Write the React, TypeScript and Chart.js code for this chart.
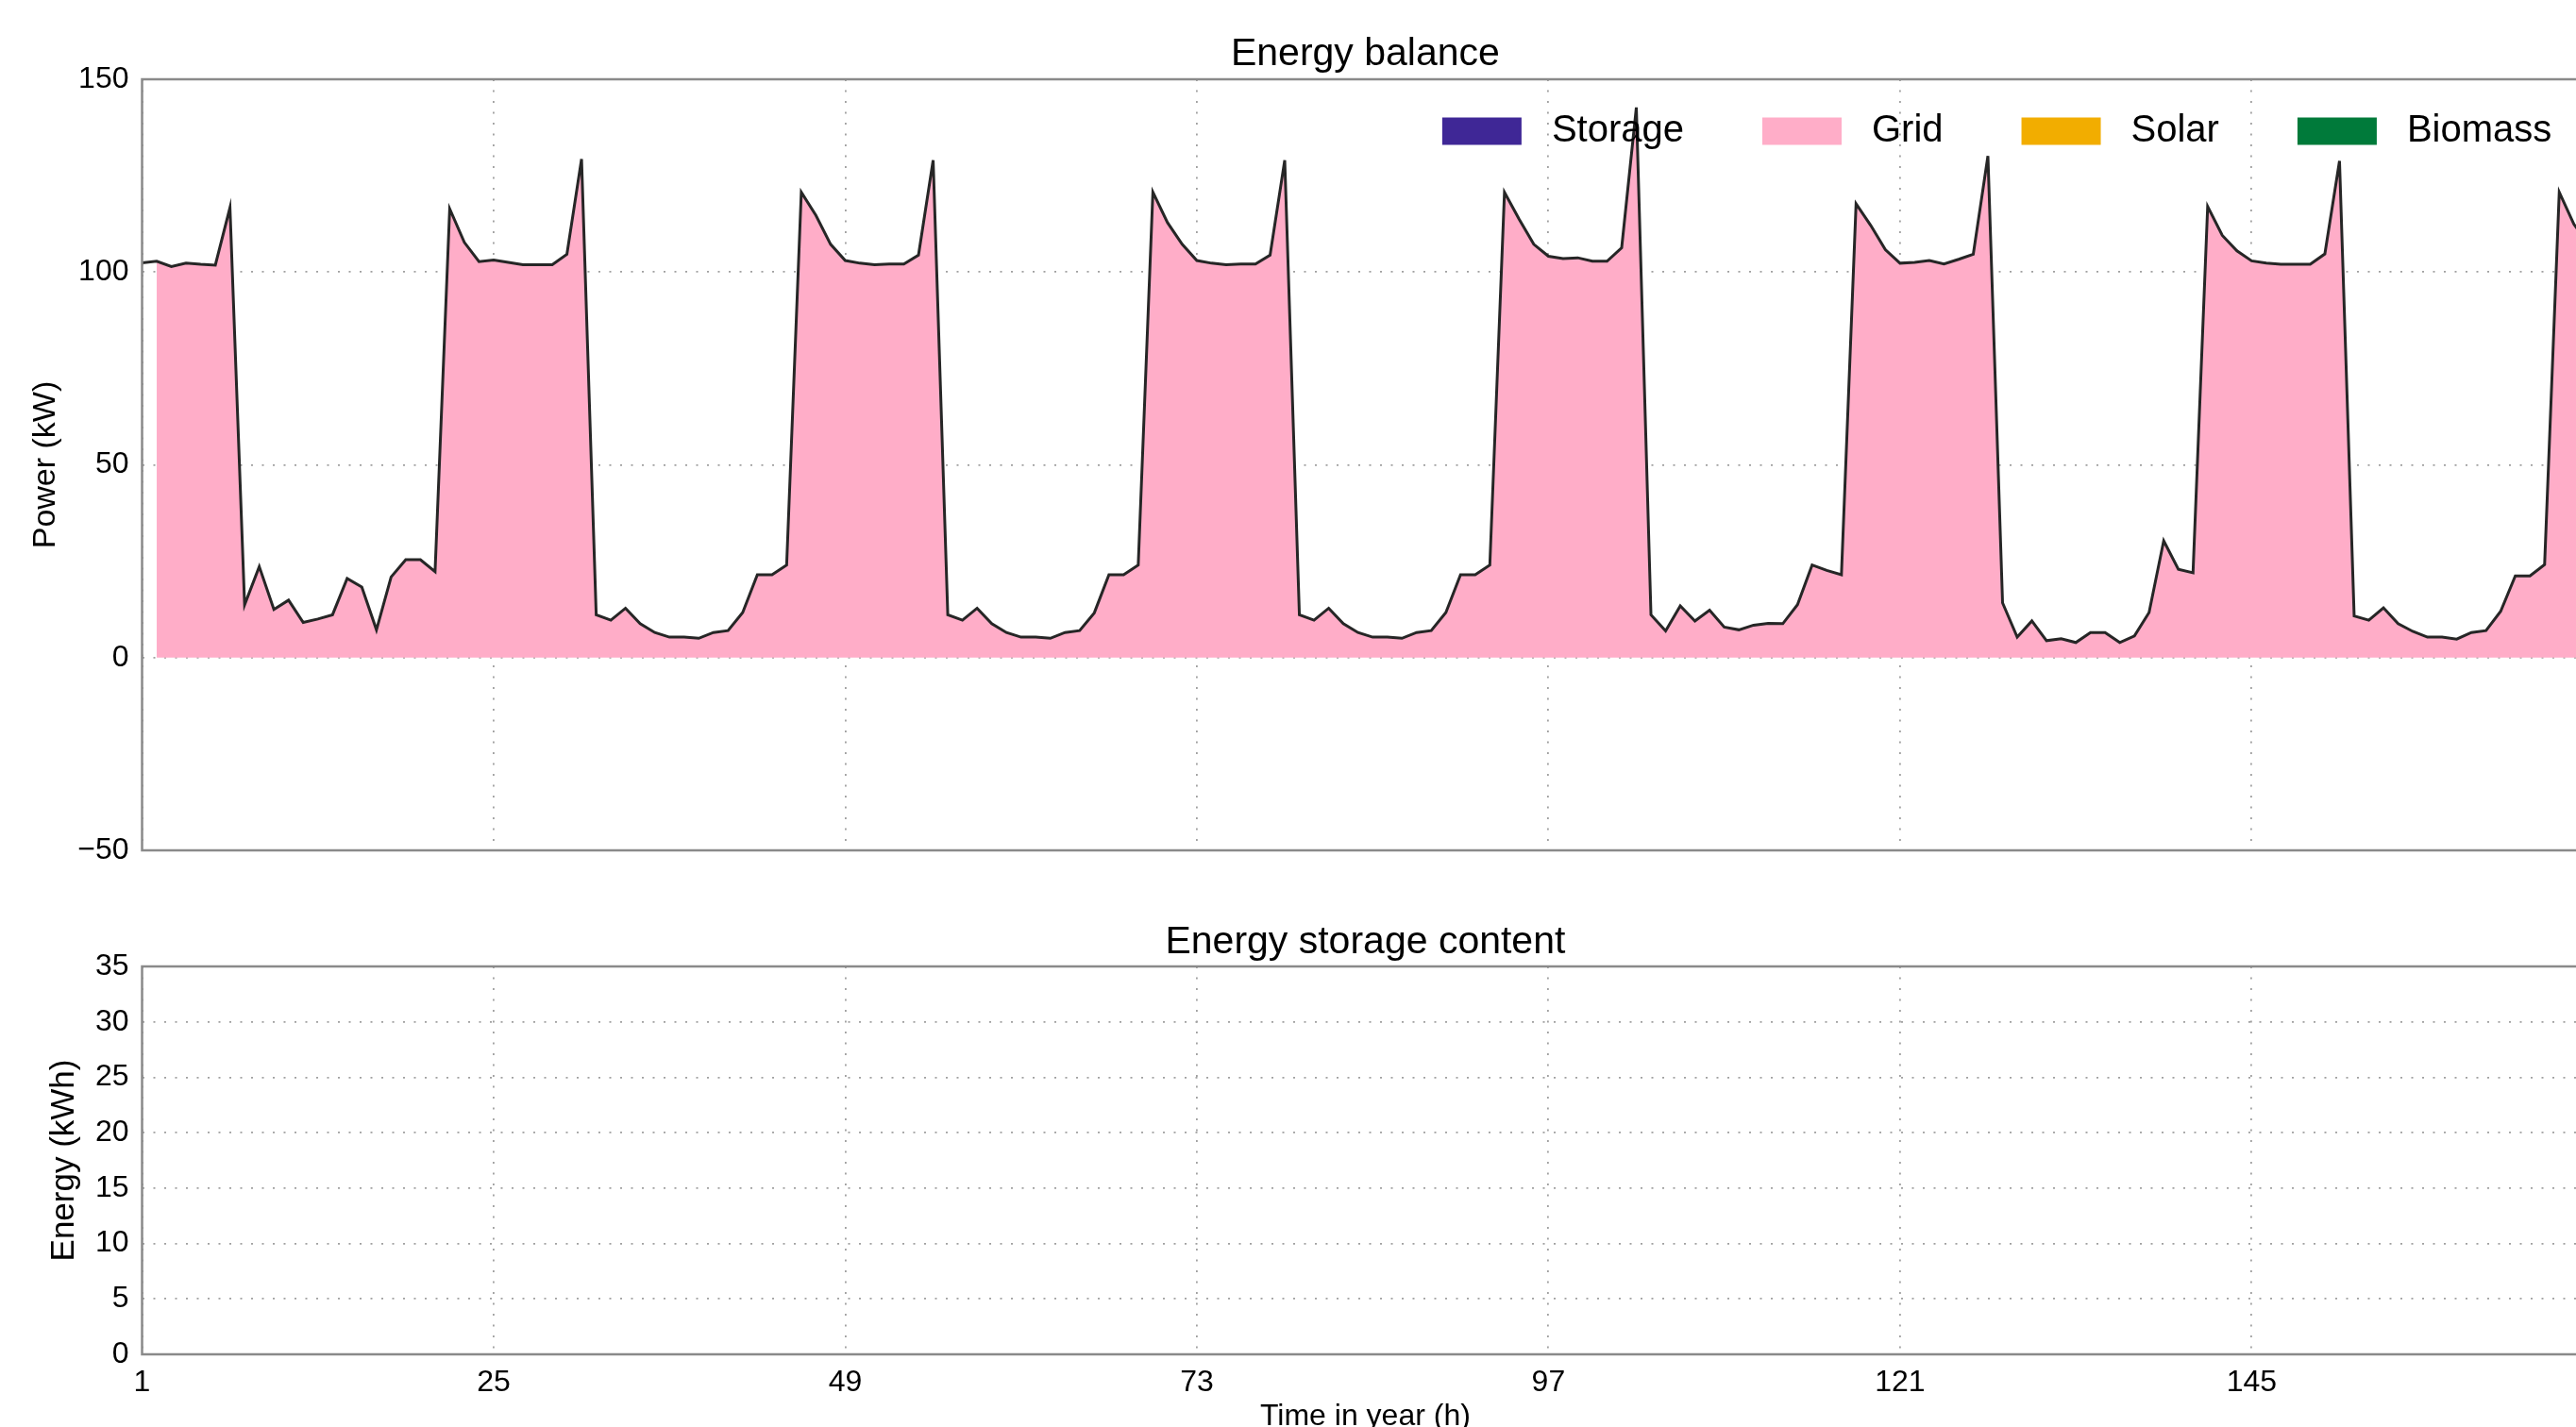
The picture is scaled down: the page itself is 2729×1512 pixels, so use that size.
import React, { useEffect, useRef } from 'react';
import { Chart, registerables } from 'chart.js';

Chart.register(...registerables);

// ---------- data ----------
const hours: number[] = [
  1, 2, 3, 4, 5, 6, 7, 8, 9, 10, 11, 12, 13, 14, 15, 16, 17, 18, 19, 20, 21, 22, 23, 24,
  25, 26, 27, 28, 29, 30, 31, 32, 33, 34, 35, 36, 37, 38, 39, 40, 41, 42, 43, 44, 45, 46, 47, 48,
  49, 50, 51, 52, 53, 54, 55, 56, 57, 58, 59, 60, 61, 62, 63, 64, 65, 66, 67, 68, 69, 70, 71, 72,
  73, 74, 75, 76, 77, 78, 79, 80, 81, 82, 83, 84, 85, 86, 87, 88, 89, 90, 91, 92, 93, 94, 95, 96,
  97, 98, 99, 100, 101, 102, 103, 104, 105, 106, 107, 108, 109, 110, 111, 112, 113, 114, 115, 116, 117, 118, 119, 120,
  121, 122, 123, 124, 125, 126, 127, 128, 129, 130, 131, 132, 133, 134, 135, 136, 137, 138, 139, 140, 141, 142, 143, 144,
  145, 146, 147, 148, 149, 150, 151, 152, 153, 154, 155, 156, 157, 158, 159, 160, 161, 162, 163, 164, 165, 166, 167, 168,
];

// electricity demand (kW), black line
const demand: number[] = [
  102.4, 102.8, 101.4, 102.3, 102.0, 101.8, 116.7, 13.7, 23.6, 12.5, 14.9, 9.1,
  10.0, 11.1, 20.5, 18.3, 7.2, 20.9, 25.4, 25.4, 22.3, 116.4, 107.7, 102.7,
  103.1, 102.5, 101.9, 101.9, 101.9, 104.6, 129.3, 11.1, 9.7, 12.8, 8.8, 6.5,
  5.3, 5.3, 5.0, 6.5, 7.0, 11.7, 21.5, 21.5, 24.0, 120.7, 114.7, 107.2,
  103.0, 102.3, 101.9, 102.1, 102.1, 104.4, 129.0, 11.1, 9.7, 12.8, 8.8, 6.5,
  5.3, 5.3, 5.0, 6.5, 7.0, 11.6, 21.5, 21.5, 24.0, 120.7, 112.8, 107.2,
  103.0, 102.3, 101.9, 102.1, 102.1, 104.4, 129.0, 11.1, 9.7, 12.8, 8.8, 6.5,
  5.3, 5.3, 5.0, 6.5, 7.0, 11.7, 21.5, 21.5, 24.0, 120.7, 113.7, 107.2,
  104.1, 103.5, 103.7, 102.8, 102.8, 106.3, 142.7, 11.1, 6.9, 13.4, 9.5, 12.3,
  7.9, 7.2, 8.4, 8.9, 8.8, 13.7, 24.0, 22.6, 21.5, 117.7, 112.1, 105.8,
  102.3, 102.5, 103.0, 102.1, 103.3, 104.6, 130.1, 14.2, 5.3, 9.5, 4.4, 4.9,
  3.9, 6.5, 6.5, 3.9, 5.6, 11.7, 30.3, 22.9, 22.0, 117.0, 109.5, 105.5,
  102.9, 102.3, 102.0, 102.0, 102.0, 104.7, 128.8, 10.8, 9.7, 12.9, 8.8, 6.8,
  5.3, 5.3, 4.8, 6.5, 7.0, 12.0, 21.2, 21.2, 24.1, 120.7, 112.4, 107.2,
];

// supply by source (kW) - only the grid delivers; it starts at hour 2
const gridSupply: (number | null)[] = demand.map((v, i) => (i === 0 ? null : v));
const storageFlow: number[] = [];
const solarSupply: number[] = [];
const biomassSupply: number[] = [];
// storage content (kWh) - empty in this run
const storageContent: number[] = [];

const seriesNames: string[] = ['Storage', 'Grid', 'Solar', 'Biomass'];
const seriesColors: string[] = ['#3f2796', '#ffadc8', '#f2ad00', '#007a3a'];

const xTicks: number[] = [1, 25, 49, 73, 97, 121, 145];
const powerTicks: number[] = [-50, 0, 50, 100, 150];
const energyTicks: number[] = [0, 5, 10, 15, 20, 25, 30, 35];

// ---------- styling ----------
const FONT = '"Liberation Sans", Arial, Helvetica, sans-serif';
const GRID_COLOR = '#a0a0a0';
const SPINE_COLOR = '#8a8a8a';
const AXIS_LEFT = 150.5;
const CANVAS_W = 2800;
const RIGHT_PAD = 57.7;

const fmt = (v: number) => (v < 0 ? '\u2212' + Math.abs(v) : String(v));

const toXY = (arr: (number | null)[]) => arr.map((v, i) => ({ x: hours[i], y: v }));

const framePlugin = {
  id: 'frame',
  afterDraw(chart: any) {
    const { ctx, chartArea } = chart;
    ctx.save();
    ctx.strokeStyle = SPINE_COLOR;
    ctx.lineWidth = 2.5;
    ctx.strokeRect(chartArea.left, chartArea.top, chartArea.right - chartArea.left, chartArea.bottom - chartArea.top);
    ctx.restore();
  },
};

const legendPlugin = {
  id: 'axesLegend',
  afterDraw(chart: any) {
    const { ctx, chartArea } = chart;
    const patchW = 84;
    const patchH = 29;
    const gapText = 32;
    const gapItem = 83;
    ctx.save();
    ctx.font = `40px ${FONT}`;
    const widths = seriesNames.map((n) => ctx.measureText(n).width);
    const total = widths.reduce((a, w) => a + patchW + gapText + w, 0) + gapItem * (seriesNames.length - 1);
    let x = chartArea.right - 39 - total;
    const cy = chartArea.top + 55;
    seriesNames.forEach((name, i) => {
      ctx.fillStyle = seriesColors[i];
      ctx.fillRect(x, cy - patchH / 2, patchW, patchH);
      x += patchW + gapText;
      ctx.fillStyle = '#000';
      ctx.textAlign = 'left';
      ctx.textBaseline = 'middle';
      ctx.fillText(name, x, cy);
      x += widths[i] + gapItem;
    });
    ctx.restore();
  },
};

const gridOpts = { color: GRID_COLOR, lineWidth: 1.8, drawTicks: false };
const borderOpts = { display: false, dash: [2, 9.5] };

function App() {
  const topRef = useRef<HTMLCanvasElement | null>(null);
  const botRef = useRef<HTMLCanvasElement | null>(null);

  useEffect(() => {
    document.body.style.margin = '0';
    const top = new Chart(topRef.current as HTMLCanvasElement, {
      type: 'line',
      data: {
        datasets: [
          {
            label: 'Demand',
            data: toXY(demand),
            borderColor: '#262626',
            borderWidth: 3,
            fill: false,
            pointRadius: 0,
            tension: 0,
            order: -1,
          },
          ...[storageFlow, gridSupply, solarSupply, biomassSupply].map((arr, i) => ({
            label: seriesNames[i],
            data: toXY(arr),
            backgroundColor: seriesColors[i],
            borderColor: seriesColors[i],
            borderWidth: 0,
            fill: 'origin',
            pointRadius: 0,
            tension: 0,
            order: 1,
          })),
        ],
      } as any,
      options: {
        animation: false,
        responsive: false,
        devicePixelRatio: 1,
        layout: { padding: { left: 0, right: RIGHT_PAD, top: 0, bottom: 59 } },
        plugins: {
          legend: { display: false },
          tooltip: { enabled: false },
          title: {
            display: true,
            text: 'Energy balance',
            fullSize: false,
            color: '#000',
            font: { family: FONT, size: 41, weight: 'normal' },
            padding: { top: 33.4, bottom: 1.4 },
          },
        },
        scales: {
          x: {
            type: 'linear',
            min: 1,
            max: 168,
            z: 1,
            afterBuildTicks: (s: any) => {
              s.ticks = xTicks.map((v) => ({ value: v }));
            },
            afterFit: (s: any) => {
              s.height = 0;
            },
            ticks: { display: false },
            grid: gridOpts,
            border: borderOpts,
          },
          y: {
            type: 'linear',
            min: -50,
            max: 150,
            z: 1,
            afterBuildTicks: (s: any) => {
              s.ticks = powerTicks.map((v) => ({ value: v }));
            },
            afterFit: (s: any) => {
              s.width = AXIS_LEFT;
            },
            ticks: {
              color: '#000',
              padding: 14,
              font: { family: FONT, size: 32 },
              callback: (v: any) => fmt(Number(v)),
            },
            grid: gridOpts,
            border: borderOpts,
            title: {
              display: true,
              text: 'Power (kW)',
              color: '#000',
              font: { family: FONT, size: 34 },
              padding: { top: 28, bottom: 0 },
            },
          },
        },
      } as any,
      plugins: [framePlugin, legendPlugin],
    });

    const bottom = new Chart(botRef.current as HTMLCanvasElement, {
      type: 'line',
      data: {
        datasets: [
          {
            label: 'Storage content',
            data: toXY(storageContent),
            borderColor: seriesColors[0],
            borderWidth: 2,
            fill: false,
            pointRadius: 0,
          },
        ],
      } as any,
      options: {
        animation: false,
        responsive: false,
        devicePixelRatio: 1,
        layout: { padding: { left: 0, right: RIGHT_PAD, top: 0, bottom: 0 } },
        plugins: {
          legend: { display: false },
          tooltip: { enabled: false },
          title: {
            display: true,
            text: 'Energy storage content',
            fullSize: false,
            color: '#000',
            font: { family: FONT, size: 41, weight: 'normal' },
            padding: { top: 14.4, bottom: 0.4 },
          },
        },
        scales: {
          x: {
            type: 'linear',
            min: 1,
            max: 168,
            z: 1,
            afterBuildTicks: (s: any) => {
              s.ticks = xTicks.map((v) => ({ value: v }));
            },
            afterFit: (s: any) => {
              s.height = 125;
            },
            ticks: {
              color: '#000',
              padding: 11,
              maxRotation: 0,
              autoSkip: false,
              font: { family: FONT, size: 32 },
              callback: (v: any) => String(v),
            },
            grid: gridOpts,
            border: borderOpts,
            title: {
              display: true,
              text: 'Time in year (h)',
              color: '#000',
              font: { family: FONT, size: 32 },
              padding: { top: 0, bottom: 39.5 },
            },
          },
          y: {
            type: 'linear',
            min: 0,
            max: 35,
            z: 1,
            afterBuildTicks: (s: any) => {
              s.ticks = energyTicks.map((v) => ({ value: v }));
            },
            afterFit: (s: any) => {
              s.width = AXIS_LEFT;
            },
            ticks: {
              color: '#000',
              padding: 14,
              font: { family: FONT, size: 32 },
              callback: (v: any) => fmt(Number(v)),
            },
            grid: gridOpts,
            border: borderOpts,
            title: {
              display: true,
              text: 'Energy (kWh)',
              color: '#000',
              font: { family: FONT, size: 35 },
              padding: { top: 47.6, bottom: 0 },
            },
          },
        },
      } as any,
      plugins: [framePlugin],
    });

    return () => {
      top.destroy();
      bottom.destroy();
    };
  }, []);

  return (
    <div
      style={{
        position: 'fixed',
        left: 0,
        top: 0,
        width: 2729,
        height: 1512,
        overflow: 'hidden',
        background: '#fff',
      }}
    >
      <canvas
        ref={topRef}
        width={CANVAS_W}
        height={960}
        style={{ position: 'absolute', left: 0, top: 0, display: 'block' }}
      />
      <canvas
        ref={botRef}
        width={CANVAS_W}
        height={600}
        style={{ position: 'absolute', left: 0, top: 960, display: 'block' }}
      />
    </div>
  );
}

export default App;
